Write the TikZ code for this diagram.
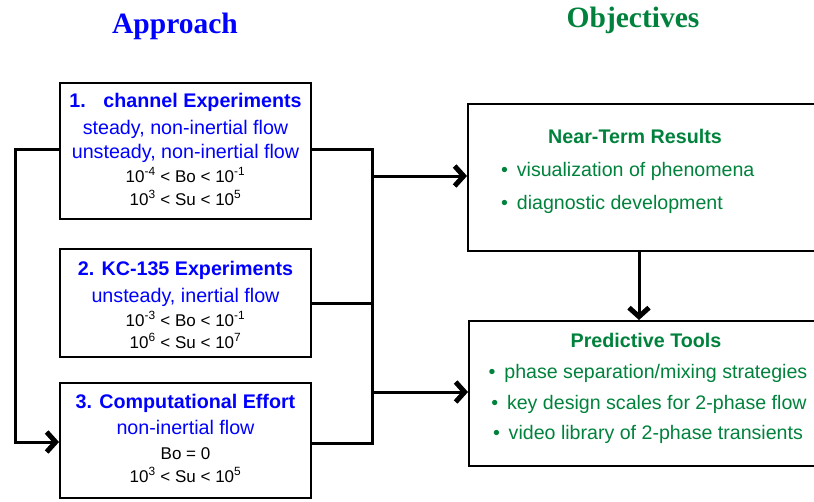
\documentclass[tikz,border=0pt]{standalone}
\usepackage{fontspec}
\setmainfont{Liberation Sans}
\newfontfamily\titlefont{Liberation Serif}
\usetikzlibrary{arrows.meta}
\definecolor{appblue}{RGB}{0,0,255}
\definecolor{objgreen}{RGB}{0,130,60}
\tikzset{
  box/.style={draw=black, line width=2pt, rectangle, inner sep=0pt},
  bus/.style={draw=black, line width=3pt},
  arrowtip/.style={-{Straight Barb[length=9pt,width=20pt,line width=5pt,line join=miter]}},
  heading/.style={font=\titlefont\bfseries\fontsize{29.5}{32}\selectfont, anchor=base, inner sep=0pt},
  boxtitle/.style={font=\bfseries\fontsize{19.7}{22}\selectfont, anchor=base, inner sep=0pt},
  flowline/.style={font=\fontsize{19.7}{22}\selectfont, text=appblue, anchor=base, inner sep=0pt},
  rangeline/.style={font=\fontsize{17}{20}\selectfont, text=black, anchor=base, inner sep=0pt},
  objline/.style={font=\fontsize{19.6}{22}\selectfont, text=objgreen, inner sep=0pt},
}
\newcommand{\bul}{\textbullet\hspace{0.45em}}
\begin{document}
\begin{tikzpicture}[x=1pt,y=-1pt]
\useasboundingbox (0,0) rectangle (814,501);
\clip (0,0) rectangle (814,501);

% column headings
\node[heading, text=appblue] (hApp) at (175,33) {Approach};
\node[heading, text=objgreen] (hObj) at (633,27) {Objectives};

% approach boxes
\node[box, minimum width=251pt, minimum height=136pt] (b1) at (185.5,151) {};
\node[box, minimum width=251pt, minimum height=108pt] (b2) at (185.5,303) {};
\node[box, minimum width=251pt, minimum height=115pt] (b3) at (185.5,440.5) {};

% objective boxes (running off the right edge)
\node[box, minimum width=362pt, minimum height=147pt] (nt) at (649,177.5) {};
\node[box, minimum width=361pt, minimum height=145pt] (pt) at (649.5,393.5) {};

% box 1 text
\node[boxtitle, text=appblue] (b1t) at (185.5,107) {1.\hspace{0.9em}channel Experiments};
\node[flowline] (b1a) at (185.5,134) {steady, non-inertial flow};
\node[flowline] (b1b) at (185.5,158) {unsteady, non-inertial flow};
\node[rangeline] (b1c) at (185.5,182) {10\textsuperscript{-4} < Bo < 10\textsuperscript{-1}};
\node[rangeline] (b1d) at (185.5,205) {10\textsuperscript{3} < Su < 10\textsuperscript{5}};

% box 2 text
\node[boxtitle, text=appblue] (b2t) at (185.5,275) {2. KC-135 Experiments};
\node[flowline] (b2a) at (185.5,302) {unsteady, inertial flow};
\node[rangeline] (b2c) at (185.5,326) {10\textsuperscript{-3} < Bo < 10\textsuperscript{-1}};
\node[rangeline] (b2d) at (185.5,348) {10\textsuperscript{6} < Su < 10\textsuperscript{7}};

% box 3 text
\node[boxtitle, text=appblue] (b3t) at (185.5,408) {3. Computational Effort};
\node[flowline] (b3a) at (185.5,434) {non-inertial flow};
\node[rangeline] (b3c) at (185.5,459) {Bo = 0};
\node[rangeline] (b3d) at (185.5,482) {10\textsuperscript{3} < Su < 10\textsuperscript{5}};

% near-term results text
\node[boxtitle, text=objgreen] (ntt) at (635,143) {Near-Term Results};
\node[objline, anchor=base west] (nt1) at (501,176) {\bul visualization of phenomena};
\node[objline, anchor=base west] (nt2) at (501,209) {\bul diagnostic development};

% predictive tools text
\node[boxtitle, text=objgreen] (ptt) at (646,347) {Predictive Tools};
\node[objline, anchor=base] (pt1) at (648,378) {\bul phase separation/mixing strategies};
\node[objline, anchor=base] (pt2) at (649,409) {\bul key design scales for 2-phase flow};
\node[objline, anchor=base] (pt3) at (648,439) {\bul video library of 2-phase transients};

% left feedback line into the computational effort box
\coordinate (lt) at (15,149);
\draw[bus, arrowtip] (b1.west |- lt) -- (lt) |- (b3.west |- 0,442);

% right collecting bus
\coordinate (rt) at (372,149);
\draw[bus] (b1.east |- rt) -- (rt) -- (rt |- 0,443) -- (b3.east |- 0,443);
\draw[bus] (b2.east) -- (rt |- b2.east);

% arrows to the objectives
\draw[bus, arrowtip] (rt |- 0,176) -- (nt.west |- 0,176);
\draw[bus, arrowtip] (rt |- 0,392) -- (pt.west |- 0,392);
\draw[bus, arrowtip] ([xshift=-10pt]nt.south) -- ([xshift=-10pt]nt.south |- pt.north);
\end{tikzpicture}
\end{document}
